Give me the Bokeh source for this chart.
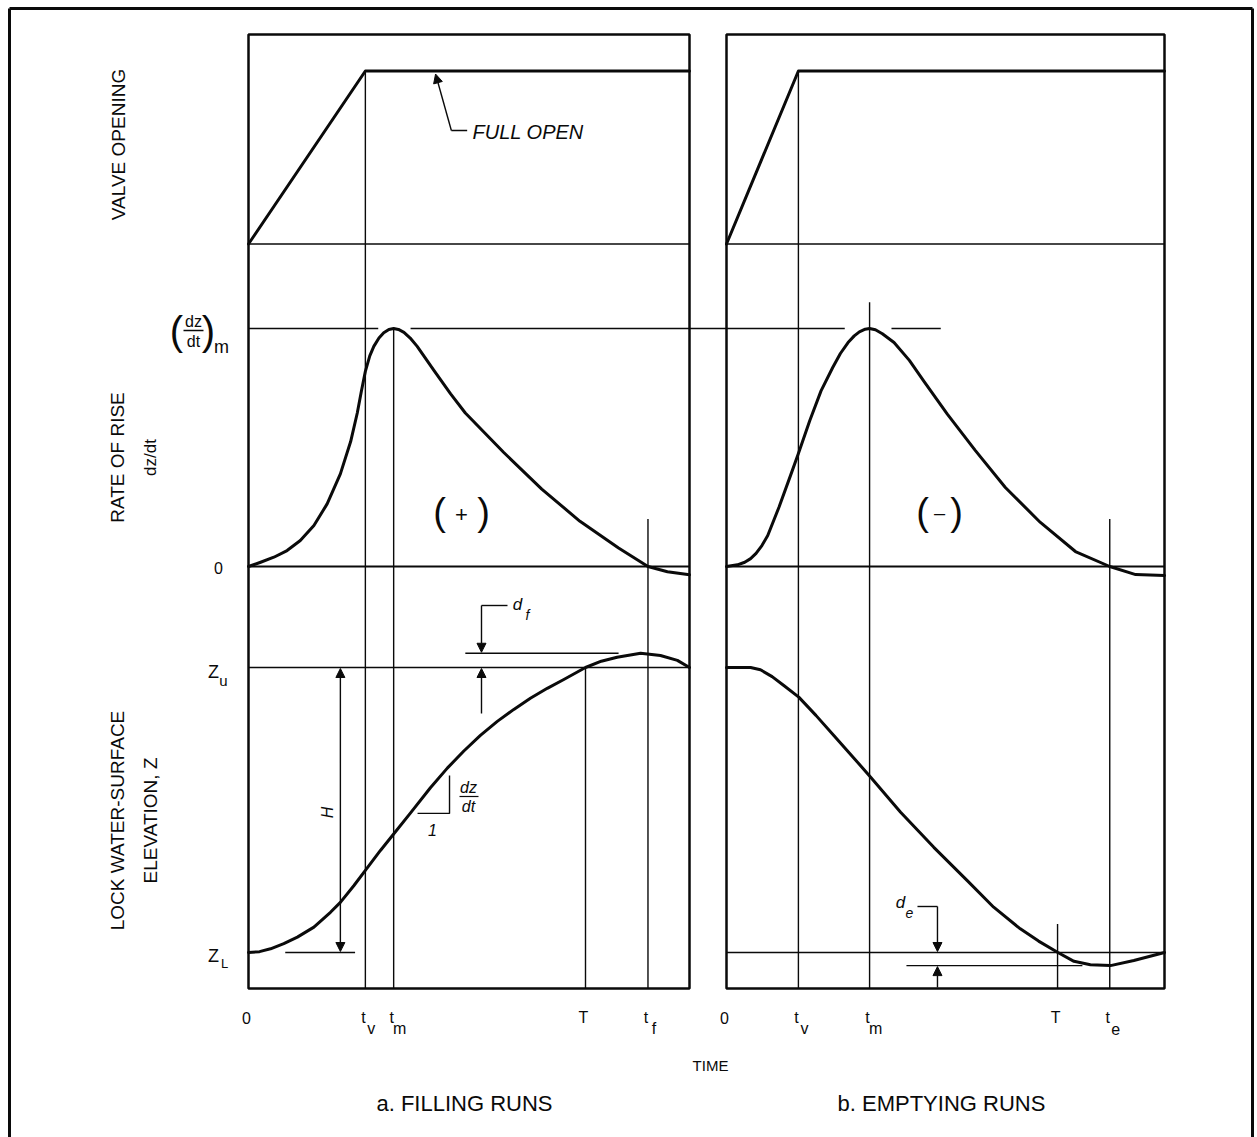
import math
from bokeh.plotting import figure
from bokeh.models import Range1d, Arrow, NormalHead, Label, ColumnDataSource
from bokeh.embed import file_html
from bokeh.resources import INLINE
from bokeh.core.properties import value

# ---------------- data ----------------
T_END = 12.0  # time span shown in each panel (relative units)

# characteristic times
FILL_TV, FILL_TM, FILL_T, FILL_TF = 3.18, 3.95, 9.17, 10.87
EMPTY_TV, EMPTY_TM, EMPTY_T, EMPTY_TE = 1.97, 3.92, 9.07, 10.50

# valve opening (0 = closed, 1 = full open)
valve_fill_t = [0.0, FILL_TV, T_END]
valve_fill_v = [0.0, 1.0, 1.0]
valve_empty_t = [0.0, EMPTY_TV, T_END]
valve_empty_v = [0.0, 1.0, 1.0]

# rate of rise, relative to (dz/dt)m
rate_fill_t = [0.0, 0.33, 0.69, 1.05, 1.41, 1.78, 2.14, 2.50, 2.78, 2.96, 3.07, 3.18, 3.30, 3.41, 3.55,
               3.68, 3.82, 3.95, 4.08, 4.23, 4.40, 4.59, 5.04, 5.50, 5.90, 6.94, 7.98, 9.02, 10.07,
               10.87, 11.40, 12.0]
rate_fill_r = [0.0, 0.018, 0.039, 0.067, 0.109, 0.172, 0.263, 0.389, 0.525, 0.645, 0.735, 0.820, 0.885,
               0.925, 0.960, 0.982, 0.996, 1.0, 0.996, 0.984, 0.960, 0.925, 0.825, 0.725, 0.645, 0.480,
               0.325, 0.190, 0.078, 0.0, -0.022, -0.035]
rate_empty_t = [0.0, 0.30, 0.50, 0.66, 0.81, 0.97, 1.13, 1.44, 1.76, 1.97, 2.28, 2.59, 2.91, 3.12,
                3.33, 3.50, 3.64, 3.80, 3.92, 4.08, 4.27, 4.59, 5.01, 5.42, 6.05, 6.82, 7.64, 8.60,
                9.56, 10.50, 11.21, 12.0]
rate_empty_r = [0.0, 0.007, 0.018, 0.033, 0.055, 0.088, 0.130, 0.250, 0.385, 0.475, 0.612, 0.738, 0.836,
                0.895, 0.941, 0.969, 0.986, 0.997, 1.0, 0.995, 0.978, 0.941, 0.866, 0.776, 0.640, 0.487,
                0.332, 0.185, 0.063, 0.0, -0.034, -0.038]

# lock water-surface elevation, relative: 0 = ZL, 1 = Zu
z_fill_t = [0.0, 0.30, 0.60, 0.96, 1.33, 1.78, 2.23, 2.50, 2.87, 3.18, 3.59, 3.95, 4.41, 4.95,
            5.41, 5.86, 6.31, 6.77, 7.22, 7.67, 8.13, 8.58, 9.17, 9.60, 10.03, 10.67, 11.21, 11.67, 12.0]
z_fill_z = [0.0, 0.003, 0.013, 0.031, 0.054, 0.089, 0.141, 0.176, 0.235, 0.288, 0.358, 0.416, 0.490, 0.578,
            0.647, 0.707, 0.762, 0.811, 0.853, 0.892, 0.927, 0.958, 1.0, 1.022, 1.036, 1.050, 1.042, 1.025, 1.0]
z_empty_t = [0.0, 0.66, 0.93, 1.25, 1.57, 1.98, 2.45, 2.94, 3.45, 3.95, 4.77, 5.68, 6.59, 7.32,
             8.05, 8.55, 9.08, 9.52, 9.97, 10.52, 11.16, 12.0]
z_empty_z = [1.0, 1.0, 0.992, 0.968, 0.937, 0.896, 0.832, 0.761, 0.688, 0.615, 0.492, 0.369, 0.253, 0.159,
             0.083, 0.040, 0.0, -0.031, -0.043, -0.046, -0.028, 0.0]

fill_tick_t = [0.0, FILL_TV, FILL_TM, FILL_T, FILL_TF]
fill_tick_main = ["0", "t", "t", "T", "t"]
fill_tick_sub = ["", "v", "m", "", "f"]
empty_tick_t = [0.0, EMPTY_TV, EMPTY_TM, EMPTY_T, EMPTY_TE]
empty_tick_main = ["0", "t", "t", "T", "t"]
empty_tick_sub = ["", "v", "m", "", "e"]

# ---------------- layout ----------------
FIG_W, FIG_H = 1257, 1137
PAGE = 0
PANEL_X = {"fill": (248, 689), "empty": (726, 1164)}
BAND_Y = {"valve": (0.0, 243.5, 1.0, 70.5), "rate": (0.0, 566.0, 1.0, 328.0), "z": (0.0, 952.0, 1.0, 667.0)}
PANEL_TOP, PANEL_BOTTOM = 34, 988
FONT = "Liberation Sans"


def sx(panel, t):
    x0, x1 = PANEL_X[panel]
    return x0 + (x1 - x0) * t / T_END


def sy(band, v):
    v0, s0, v1, s1 = BAND_Y[band]
    return s0 + (v - v0) * (s1 - s0) / (v1 - v0)


def range_x(panel):
    x0, x1 = PANEL_X[panel]
    k = T_END / (x1 - x0)
    return Range1d(start=(PAGE - x0) * k, end=(PAGE + FIG_W - x0) * k)


def range_y(band):
    v0, s0, v1, s1 = BAND_Y[band]
    k = (v1 - v0) / (s1 - s0)
    return Range1d(start=v0 + (PAGE + FIG_H - s0) * k, end=v0 + (PAGE - s0) * k)


p = figure(width=FIG_W, height=FIG_H,
           x_range=Range1d(PAGE, PAGE + FIG_W), y_range=Range1d(PAGE + FIG_H, PAGE),
           x_axis_type=None, y_axis_type=None, toolbar_location=None,
           output_backend="svg", min_border=0, outline_line_color=None)
p.background_fill_color = "white"
p.border_fill_color = "white"
p.extra_x_ranges = {"fill": range_x("fill"), "empty": range_x("empty")}
p.extra_y_ranges = {b: range_y(b) for b in BAND_Y}

BLACK = "#0a0a0a"
THIN = 1.4


def label(x, y, text, size, align="center", baseline="middle", angle=0.0, style="normal", **kw):
    p.add_layout(Label(x=x, y=y, text=text, text_font=FONT, text_font_size=size,
                       text_align=align, text_baseline=baseline, angle=angle,
                       text_font_style=style, text_color=BLACK, **kw))


def arrow(x0, y0, x1, y1):
    head = NormalHead(size=9, fill_color=BLACK, line_color=BLACK, line_width=1)
    p.add_layout(Arrow(x_start=x0, y_start=y0, x_end=x1, y_end=y1, end=head,
                       line_color=BLACK, line_width=THIN))


# outer frame
p.segment(x0=[9, 9, 1252], y0=[8, 8, 8], x1=[1252, 9, 1252], y1=[8, 1137, 1137],
          line_color=BLACK, line_width=3)

# ---------------- panels ----------------
for panel in ("fill", "empty"):
    p.quad(left=[0], right=[T_END], top=[PANEL_TOP], bottom=[PANEL_BOTTOM], x_range_name=panel,
           fill_color=None, line_color=BLACK, line_width=2.5)
    # valve closed baseline
    p.segment(x0=[0], x1=[T_END], y0=[0], y1=[0], x_range_name=panel, y_range_name="valve",
              line_color=BLACK, line_width=THIN)
    # zero rate line
    p.segment(x0=[0], x1=[T_END], y0=[0], y1=[0], x_range_name=panel, y_range_name="rate",
              line_color=BLACK, line_width=2)

# Zu line (filling) and ZL line (emptying)
p.segment(x0=[0], x1=[T_END], y0=[1], y1=[1], x_range_name="fill", y_range_name="z",
          line_color=BLACK, line_width=THIN)
p.segment(x0=[0], x1=[T_END], y0=[0], y1=[0], x_range_name="empty", y_range_name="z",
          line_color=BLACK, line_width=THIN)
# short ZL line at left of filling panel
p.segment(x0=[1.0], x1=[2.9], y0=[0], y1=[0], x_range_name="fill", y_range_name="z",
          line_color=BLACK, line_width=THIN)

# vertical time markers (top anchored at the feature they mark, down to panel bottom)
fill_vert_t = [FILL_TV, FILL_TM, FILL_T, FILL_TF]
fill_vert_top = [sy("valve", 1.0), sy("rate", 1.0), sy("z", 1.0), sy("rate", 0.2)]
empty_vert_t = [EMPTY_TV, EMPTY_TM, EMPTY_T, EMPTY_TE]
empty_vert_top = [sy("valve", 1.0), sy("rate", 1.11), sy("z", 0.10), sy("rate", 0.2)]
p.segment(x0=fill_vert_t, x1=fill_vert_t, y0=fill_vert_top, y1=[PANEL_BOTTOM] * 4,
          x_range_name="fill", line_color=BLACK, line_width=THIN)
p.segment(x0=empty_vert_t, x1=empty_vert_t, y0=empty_vert_top, y1=[PANEL_BOTTOM] * 4,
          x_range_name="empty", line_color=BLACK, line_width=THIN)

# (dz/dt)m reference line, broken around each peak
dm_x0 = [sx("fill", 0.0), sx("fill", FILL_TM + 0.46), sx("empty", EMPTY_TM + 0.60)]
dm_x1 = [sx("fill", FILL_TM - 0.42), sx("empty", EMPTY_TM - 0.68), sx("empty", EMPTY_TM + 1.95)]
p.segment(x0=dm_x0, x1=dm_x1, y0=[1.0] * 3, y1=[1.0] * 3, y_range_name="rate",
          line_color=BLACK, line_width=THIN)

# ---------------- curves ----------------
curve_kw = dict(line_color=BLACK, line_width=3, line_join="round", line_cap="round")
p.line(valve_fill_t, valve_fill_v, x_range_name="fill", y_range_name="valve", **curve_kw)
p.line(valve_empty_t, valve_empty_v, x_range_name="empty", y_range_name="valve", **curve_kw)
p.line(rate_fill_t, rate_fill_r, x_range_name="fill", y_range_name="rate", **curve_kw)
p.line(rate_empty_t, rate_empty_r, x_range_name="empty", y_range_name="rate", **curve_kw)
p.line(z_fill_t, z_fill_z, x_range_name="fill", y_range_name="z", **curve_kw)
p.line(z_empty_t, z_empty_z, x_range_name="empty", y_range_name="z", **curve_kw)

# ---------------- annotations ----------------
z_over = max(z_fill_z)
z_under = min(z_empty_z)

# FULL OPEN
fo_tip_x = sx("fill", 5.09)
p.line([sx("fill", 5.95), sx("fill", 5.52)], [130, 130], line_color=BLACK, line_width=THIN)
arrow(sx("fill", 5.52), 130, fo_tip_x, sy("valve", 1.0) + 3)
label(472, 131, "FULL OPEN", "20px", align="left", style="italic")

# d_f (overfill)
p.segment(x0=[5.9], x1=[10.07], y0=[z_over], y1=[z_over], x_range_name="fill", y_range_name="z",
          line_color=BLACK, line_width=THIN)
dfx = sx("fill", 6.34)
p.line([dfx + 26, dfx], [605, 605], line_color=BLACK, line_width=THIN)
arrow(dfx, 605, dfx, sy("z", z_over) - 1)
arrow(dfx, 713, dfx, sy("z", 1.0) + 1)
label(517, 604, "d", "17px", style="italic")
label(527, 614, "f", "14px", style="italic")

# d_e (overdrain)
p.segment(x0=[4.93], x1=[9.75], y0=[z_under], y1=[z_under], x_range_name="empty", y_range_name="z",
          line_color=BLACK, line_width=THIN)
dex = sx("empty", 5.78)
p.line([dex - 20, dex], [906, 906], line_color=BLACK, line_width=THIN)
arrow(dex, 906, dex, sy("z", 0.0) - 1)
arrow(dex, PANEL_BOTTOM - 1, dex, sy("z", z_under) + 1)
label(900, 902, "d", "17px", style="italic")
label(909, 912, "e", "14px", style="italic")

# H double arrow
hx = sx("fill", 2.5)
arrow(hx, sy("z", 0.5), hx, sy("z", 1.0) + 1)
arrow(hx, sy("z", 0.5), hx, sy("z", 0.0) - 1)
label(327, 812, "H", "16px", angle=math.pi / 2, style="italic")

# slope triangle dz/dt : 1
p.line([sx("fill", 4.6), sx("fill", 5.47), sx("fill", 5.47)],
       [sy("z", 0.488), sy("z", 0.488), sy("z", 0.621)], line_color=BLACK, line_width=THIN)
label(468, 787, "dz", "16px", style="italic")
p.line([459, 478], [796, 796], line_color=BLACK, line_width=1.2)
label(468, 806, "dt", "16px", style="italic")
label(432, 829, "1", "16px", style="italic")

# (+) and (-)
label(439, 511, "(", "38px")
label(461, 514, "+", "22px")
label(483, 511, ")", "38px")
label(922, 511, "(", "38px")
label(939, 512, "\u2013", "20px")
label(956, 511, ")", "38px")

# ---------------- left-side axis labels ----------------
label(118, 144, "VALVE OPENING", "19px", angle=math.pi / 2)
label(117, 457, "RATE OF RISE", "19px", angle=math.pi / 2)
label(150, 457, "dz/dt", "17px", angle=math.pi / 2)
label(117, 820, "LOCK WATER-SURFACE", "19px", angle=math.pi / 2)
label(150, 820, "ELEVATION, Z", "19px", angle=math.pi / 2)

rm = sy("rate", 1.0)
label(176, rm + 2, "(", "40px")
label(193, rm - 7, "dz", "16px")
p.line([183, 203], [rm + 2, rm + 2], line_color=BLACK, line_width=1.5)
label(193, rm + 13, "dt", "16px")
label(208, rm + 2, ")", "40px")
label(221, rm + 18, "m", "18px")
label(218, sy("rate", 0.0) + 1, "0", "16px")
label(213, sy("z", 1.0) + 4, "Z", "18px")
label(223, sy("z", 1.0) + 13, "u", "15px")
label(213, sy("z", 0.0) + 3, "Z", "18px")
label(224, sy("z", 0.0) + 11, "L", "13px")

# ---------------- time labels ----------------
for panel, tt, mains, subs in (("fill", fill_tick_t, fill_tick_main, fill_tick_sub),
                               ("empty", empty_tick_t, empty_tick_main, empty_tick_sub)):
    src = ColumnDataSource(dict(x=tt, y=[1017] * len(tt), ys=[1028] * len(tt), m=mains, s=subs))
    p.text(x="x", y="y", text="m", source=src, x_range_name=panel, x_offset=-2,
           text_font=value(FONT), text_font_size="16px", text_align="center",
           text_baseline="middle", text_color=BLACK)
    p.text(x="x", y="ys", text="s", source=src, x_range_name=panel, x_offset=6,
           text_font=value(FONT), text_font_size="16px", text_align="center",
           text_baseline="middle", text_color=BLACK)

label(710, 1065, "TIME", "15px")
label(467, 1103, "a.  FILLING RUNS", "22px")
label(944, 1103, "b.  EMPTYING RUNS", "22px")

open("out.html", "w").write(file_html(p, INLINE))
